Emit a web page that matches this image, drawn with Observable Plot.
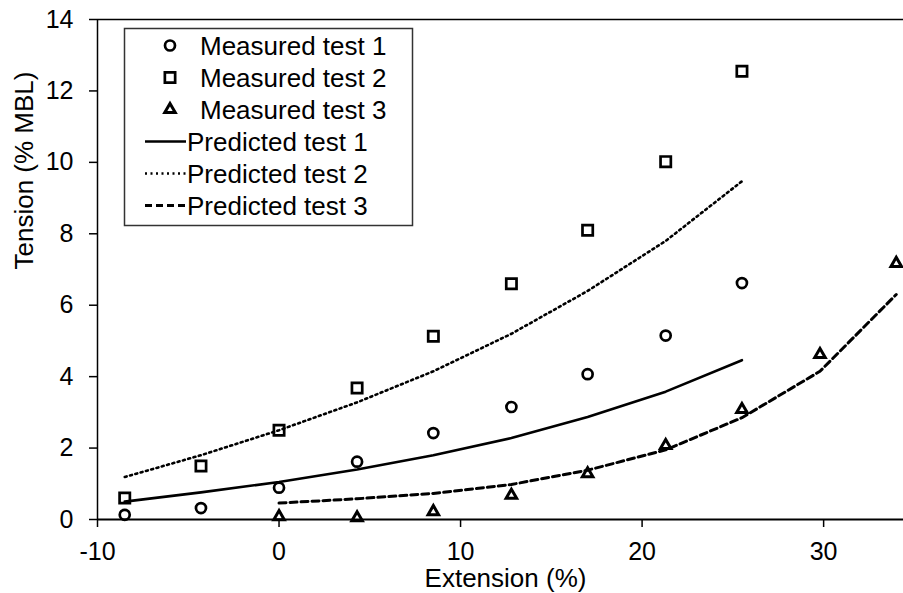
<!DOCTYPE html>
<html><head><meta charset="utf-8">
<script src="https://cdn.jsdelivr.net/npm/d3@7"></script>
<script src="https://cdn.jsdelivr.net/npm/@observablehq/plot@0.6"></script>
<style>
body{margin:0;background:#fff;}
#chart{position:relative;width:903px;height:593px;font-family:Arial,"Liberation Sans",sans-serif;}
</style></head><body><div id="chart"></div>
<script>
// ---- data ----
const extension12 = [-8.5, -4.3, 0, 4.3, 8.5, 12.8, 17.0, 21.3, 25.5];
const extension3 = [0, 4.3, 8.5, 12.8, 17.0, 21.3, 25.5, 29.8, 34.0];
const measured1 = [0.13, 0.32, 0.89, 1.62, 2.42, 3.15, 4.07, 5.15, 6.62];
const measured2 = [0.6, 1.5, 2.5, 3.68, 5.13, 6.6, 8.1, 10.02, 12.55];
const measured3 = [0.08, 0.05, 0.22, 0.68, 1.28, 2.07, 3.08, 4.62, 7.17];
const predicted1 = [0.5, 0.76, 1.05, 1.4, 1.8, 2.28, 2.87, 3.58, 4.46];
const predicted2 = [1.19, 1.8, 2.5, 3.28, 4.15, 5.2, 6.4, 7.8, 9.47];
const predicted3 = [0.46, 0.58, 0.73, 0.98, 1.38, 1.95, 2.85, 4.15, 6.3];
const xTicks = [-10, 0, 10, 20, 30];
const yTicks = [0, 2, 4, 6, 8, 10, 12, 14];
const xLabel = "Extension (%)";
const yLabel = "Tension (% MBL)";
const legendLabels = ["Measured test 1", "Measured test 2", "Measured test 3", "Predicted test 1", "Predicted test 2", "Predicted test 3"];

const pts = (xs, ys) => xs.map((x, i) => ({x, y: ys[i]}));
const font = "Arial, 'Liberation Sans', sans-serif";
const fmt = d => `${d}`;

const styleP = {dotted: "2,3.5", dashed: "7,4"};
const markerSpec = {
  circle: {r: 5, w: 2.7},
  square: {r: 5.8, w: 2.7},
  triangle: {r: 3.9, w: 3}
};

const plot = Plot.plot({
  width: 903, height: 593,
  marginLeft: 97, marginRight: 0, marginTop: 19, marginBottom: 74,
  style: {fontFamily: font, fontSize: "25px", color: "#000", background: "#fff", overflow: "visible"},
  x: {domain: [-10, 34.4], ticks: xTicks, tickFormat: fmt, tickSize: 8, tickPadding: 15, label: null},
  y: {domain: [0, 14], ticks: yTicks, tickFormat: fmt, tickSize: 8, tickPadding: 16, label: null},
  marks: [
    Plot.ruleY([14], {stroke: "#000", strokeWidth: 1.3}),
    Plot.ruleY([0], {stroke: "#000", strokeWidth: 2}),
    Plot.ruleX([-10], {stroke: "#000", strokeWidth: 1.5}),
    Plot.line(pts(extension12, predicted1), {x: "x", y: "y", stroke: "#000", strokeWidth: 2.6}),
    Plot.line(pts(extension12, predicted2), {x: "x", y: "y", stroke: "#000", strokeWidth: 2.6, strokeDasharray: styleP.dotted}),
    Plot.line(pts(extension3, predicted3), {x: "x", y: "y", stroke: "#000", strokeWidth: 3, strokeDasharray: styleP.dashed}),
    Plot.dot(pts(extension12, measured1), {x: "x", y: "y", symbol: "circle", r: markerSpec.circle.r, stroke: "#000", strokeWidth: markerSpec.circle.w, fill: "none"}),
    Plot.dot(pts(extension12, measured2), {x: "x", y: "y", symbol: "square", r: markerSpec.square.r, stroke: "#000", strokeWidth: markerSpec.square.w, fill: "none"}),
    Plot.dot(pts(extension3, measured3), {x: "x", y: "y", symbol: "triangle", r: markerSpec.triangle.r, stroke: "#000", strokeWidth: markerSpec.triangle.w, fill: "none"}),
    Plot.text([xLabel], {frameAnchor: "bottom", lineAnchor: "bottom", dy: 67, dx: 5, fontSize: 26, fill: "#000"}),
    Plot.text([yLabel], {frameAnchor: "left", lineAnchor: "bottom", rotate: -90, dx: -65, fontSize: 26, fill: "#000"})
  ]
});
document.getElementById("chart").appendChild(plot);
d3.select(plot).selectAll("[aria-label$='tick'] path, [aria-label$='tick'] line").attr("stroke-width", 1.5);

// ---- legend overlay ----
const leg = d3.select("#chart").append("svg")
  .attr("width", 903).attr("height", 593)
  .style("position", "absolute").style("left", "0px").style("top", "0px")
  .style("pointer-events", "none");
const box = {x: 124.5, y: 28.5, w: 288, h: 197};
leg.append("rect").attr("x", box.x).attr("y", box.y).attr("width", box.w).attr("height", box.h)
  .attr("fill", "#fff").attr("stroke", "#333").attr("stroke-width", 1.5);
const rowY = i => 45.5 + i * 32;
const syms = [[d3.symbolCircle, markerSpec.circle], [d3.symbolSquare, markerSpec.square], [d3.symbolTriangle, markerSpec.triangle]];
syms.forEach(([s, m], i) => {
  leg.append("path").attr("d", d3.symbol(s, Math.PI * m.r * m.r)())
    .attr("transform", `translate(170,${rowY(i)})`)
    .attr("fill", "none").attr("stroke", "#000").attr("stroke-width", m.w);
});
const dashes = [null, styleP.dotted, styleP.dashed];
const widths = [2.6, 2.6, 3];
dashes.forEach((d, i) => {
  const l = leg.append("line").attr("x1", 145).attr("x2", 186).attr("y1", rowY(i + 3)).attr("y2", rowY(i + 3))
    .attr("stroke", "#000").attr("stroke-width", widths[i]);
  if (d) l.attr("stroke-dasharray", d);
});
legendLabels.forEach((t, i) => {
  leg.append("text").attr("x", i < 3 ? 200 : 187).attr("y", rowY(i) + 9)
    .attr("font-family", font).attr("font-size", 26).attr("fill", "#000").text(t);
});
</script></body></html>
